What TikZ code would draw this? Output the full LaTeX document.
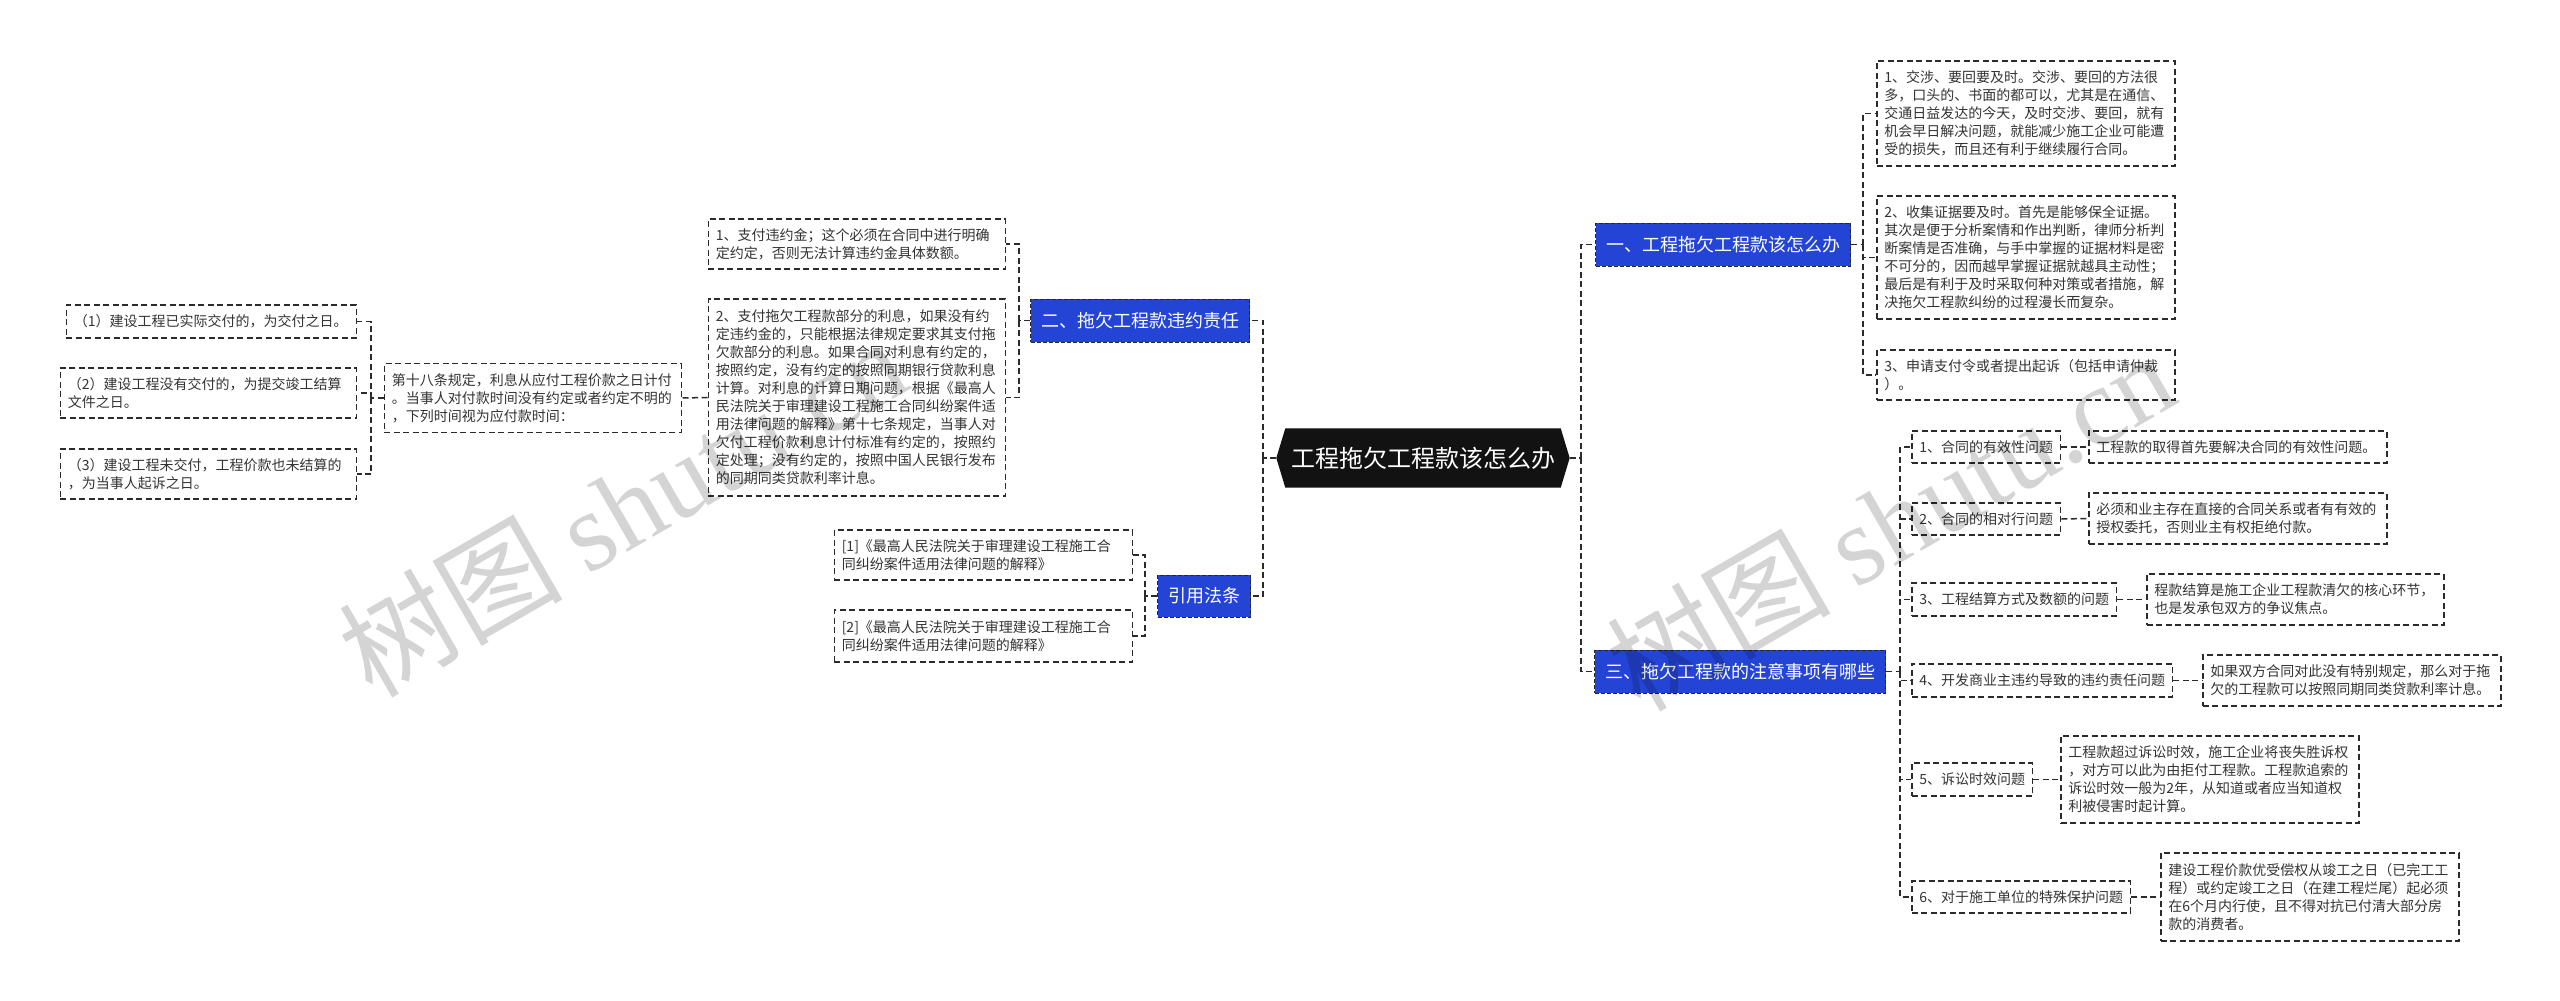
\documentclass[tikz,border=0pt]{standalone}
\usepackage{fontspec}
\setmainfont{Noto Sans CJK SC}
\newfontfamily\wmlat{Liberation Serif}
\usetikzlibrary{backgrounds,calc}
\definecolor{nodeblue}{HTML}{2444D6}
\definecolor{txtgray}{HTML}{333333}
\definecolor{linegray}{HTML}{2B2B2B}
\tikzset{
 conn/.style={draw=linegray, line width=1.5pt, dash pattern=on 6pt off 3.5pt},
 bx/.style={draw=linegray, line width=1.5pt, dash pattern=on 6pt off 3.5pt, fill=white, text=txtgray, font=\fontsize{14}{18}\selectfont, inner xsep=7.5pt, inner ysep=0pt, align=left},
 lbl/.style={bx, minimum height=33pt},
 bnode/.style={draw=black!85, line width=1pt, dash pattern=on 4pt off 2pt, fill=nodeblue, text=white, font=\fontsize{18}{22}\selectfont, inner xsep=10.5pt, inner ysep=0pt, minimum height=43pt},
 wm/.style={text=black, opacity=0.17, font=\fontsize{112}{112}\selectfont, inner sep=0pt}
}
\begin{document}
\begin{tikzpicture}[x=1pt,y=-1pt]
\begin{scope}[on background layer]
\fill[white] (0,0) rectangle (2560,1001);
\end{scope}
\useasboundingbox (0,0) rectangle (2560,1001);

% root
\node[font=\fontsize{24}{28}\selectfont, text=white, minimum width=293pt, minimum height=59pt, inner sep=0pt] (root) at (1423,458) {工程拖欠工程款该怎么办};
\begin{scope}[on background layer]
\fill[black!93] (root.west) -- ($(root.north west)+(9,0)$) -- ($(root.north east)+(-9,0)$) -- (root.east) -- ($(root.south east)+(-9,0)$) -- ($(root.south west)+(9,0)$) -- cycle;
\end{scope}

% right branch 1
\node[bnode, anchor=west] (A1) at (1595,244.5) {一、工程拖欠工程款该怎么办};
\node[bx, anchor=west, text width=283pt, minimum height=105pt] (C1) at (1876,113.5) {1、交涉、要回要及时。交涉、要回的方法很\\多，口头的、书面的都可以，尤其是在通信、\\交通日益发达的今天，及时交涉、要回，就有\\机会早日解决问题，就能减少施工企业可能遭\\受的损失，而且还有利于继续履行合同。};
\node[bx, anchor=west, text width=283pt, minimum height=123pt] (C2) at (1876,257.5) {2、收集证据要及时。首先是能够保全证据。\\其次是便于分析案情和作出判断，律师分析判\\断案情是否准确，与手中掌握的证据材料是密\\不可分的，因而越早掌握证据就越具主动性；\\最后是有利于及时采取何种对策或者措施，解\\决拖欠工程款纠纷的过程漫长而复杂。};
\node[bx, anchor=west, text width=283pt, minimum height=50pt] (C3) at (1876,375) {3、申请支付令或者提出起诉（包括申请仲裁\\）。};

% right branch 3
\node[bnode, anchor=west] (A3) at (1594,671.5) {三、拖欠工程款的注意事项有哪些};
\node[lbl, anchor=west, minimum height=32pt] (D1) at (1911,447) {1、合同的有效性问题};
\node[bx, anchor=west, text width=283pt, minimum height=32pt] (D1d) at (2088,447) {工程款的取得首先要解决合同的有效性问题。};
\node[lbl, anchor=west, minimum height=32pt] (D2) at (1911,519) {2、合同的相对行问题};
\node[bx, anchor=west, text width=283pt, minimum height=51pt] (D2d) at (2088,518.5) {必须和业主存在直接的合同关系或者有有效的\\授权委托，否则业主有权拒绝付款。};
\node[lbl, anchor=west] (D3) at (1911,599.5) {3、工程结算方式及数额的问题};
\node[bx, anchor=west, text width=282pt, minimum height=51pt] (D3d) at (2146,599.5) {程款结算是施工企业工程款清欠的核心环节，\\也是发承包双方的争议焦点。};
\node[lbl, anchor=west] (D4) at (1911,680.5) {4、开发商业主违约导致的违约责任问题};
\node[bx, anchor=west, text width=283pt, minimum height=51pt] (D4d) at (2202,680.5) {如果双方合同对此没有特别规定，那么对于拖\\欠的工程款可以按照同期同类贷款利率计息。};
\node[lbl, anchor=west] (D5) at (1911,779.5) {5、诉讼时效问题};
\node[bx, anchor=west, text width=283pt, minimum height=87pt] (D5d) at (2060,779.5) {工程款超过诉讼时效，施工企业将丧失胜诉权\\，对方可以此为由拒付工程款。工程款追索的\\诉讼时效一般为2年，从知道或者应当知道权\\利被侵害时起计算。};
\node[lbl, anchor=west, minimum height=32pt] (D6) at (1911,897) {6、对于施工单位的特殊保护问题};
\node[bx, anchor=west, text width=283pt, minimum height=88pt] (D6d) at (2160,897) {建设工程价款优受偿权从竣工之日（已完工工\\程）或约定竣工之日（在建工程烂尾）起必须\\在6个月内行使，且不得对抗已付清大部分房\\款的消费者。};

% left branch 2
\node[bnode, anchor=east] (B2) at (1250,320.5) {二、拖欠工程款违约责任};
\node[bx, anchor=east, text width=282pt, minimum height=50pt] (E1) at (1006,244) {1、支付违约金；这个必须在合同中进行明确\\定约定，否则无法计算违约金具体数额。};
\node[bx, anchor=east, text width=282pt, minimum height=197pt] (E2) at (1006,397.5) {2、支付拖欠工程款部分的利息，如果没有约\\定违约金的，只能根据法律规定要求其支付拖\\欠款部分的利息。如果合同对利息有约定的，\\按照约定，没有约定的按照同期银行贷款利息\\计算。对利息的计算日期问题，根据《最高人\\民法院关于审理建设工程施工合同纠纷案件适\\用法律问题的解释》第十七条规定，当事人对\\欠付工程价款利息计付标准有约定的，按照约\\定处理；没有约定的，按照中国人民银行发布\\的同期同类贷款利率计息。};
\node[bx, anchor=east, text width=282pt, minimum height=69pt] (F) at (682,398) {第十八条规定，利息从应付工程价款之日计付\\。当事人对付款时间没有约定或者约定不明的\\，下列时间视为应付款时间：};
\node[bx, anchor=east, text width=275pt, minimum height=33pt] (G1) at (357,321.5) {（1）建设工程已实际交付的，为交付之日。};
\node[bx, anchor=east, text width=281pt, minimum height=50pt] (G2) at (357,393) {（2）建设工程没有交付的，为提交竣工结算\\文件之日。};
\node[bx, anchor=east, text width=281pt, minimum height=50pt] (G3) at (357,474) {（3）建设工程未交付，工程价款也未结算的\\，为当事人起诉之日。};

% left branch 4
\node[bnode, anchor=east, minimum height=42pt] (B4) at (1251,596) {引用法条};
\node[bx, anchor=east, text width=283pt, minimum height=50pt] (H1) at (1133,555) {[1]《最高人民法院关于审理建设工程施工合\\同纠纷案件适用法律问题的解释》};
\node[bx, anchor=east, text width=283pt, minimum height=52pt] (H2) at (1133,636) {[2]《最高人民法院关于审理建设工程施工合\\同纠纷案件适用法律问题的解释》};

% junctions
\coordinate (jR) at (1581,458);
\coordinate (jL) at (1263,458);
\coordinate (jA1) at (1863,244.5);
\coordinate (jA3) at (1900,671.5);
\coordinate (jB2) at (1019,320.5);
\coordinate (jB4) at (1145,596);
\coordinate (jF) at (371,398);

% connectors
\draw[conn] (root.east) -- (jR);
\draw[conn] (jR) |- (A1.west);
\draw[conn] (jR) |- (A3.west);
\draw[conn] (root.west) -- (jL);
\draw[conn] (jL) |- (B2.east);
\draw[conn] (jL) |- (B4.east);

\draw[conn] (A1.east) -- (jA1);
\draw[conn] (jA1) |- (C1.west);
\draw[conn] (jA1) |- (C2.west);
\draw[conn] (jA1) |- (C3.west);

\draw[conn] (A3.east) -- (jA3);
\foreach \n in {D1,D2,D3,D4,D5,D6} {
  \draw[conn] (jA3) |- (\n.west);
  \draw[conn] (\n.east) -- (\n d.west);
}

\draw[conn] (B2.west) -- (jB2);
\draw[conn] (jB2) |- (E1.east);
\draw[conn] (jB2) |- (E2.east);
\draw[conn] (E2.west) -- (F.east);
\draw[conn] (F.west) -- (jF);
\draw[conn] (jF) |- (G1.east);
\draw[conn] (jF) |- (G2.east);
\draw[conn] (jF) |- (G3.east);

\draw[conn] (B4.west) -- (jB4);
\draw[conn] (jB4) |- (H1.east);
\draw[conn] (jB4) |- (H2.east);

% watermarks
\node[wm, anchor=base west, rotate=30] (wm1) at (372,700) {树图 {\wmlat shutu.cn}};
\node[wm, anchor=base west, rotate=30] (wm2) at (1640,714) {树图 {\wmlat shutu.cn}};
\end{tikzpicture}
\end{document}
